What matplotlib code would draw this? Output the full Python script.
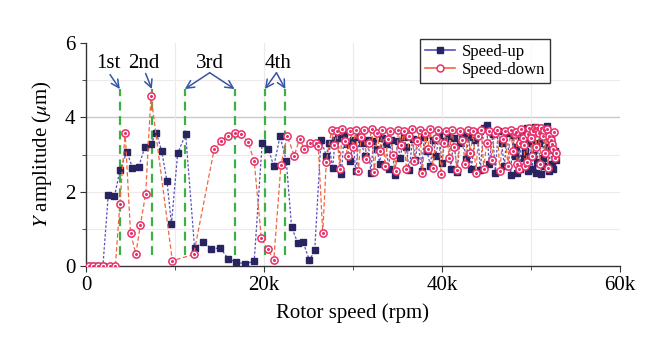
import matplotlib
matplotlib.use("Agg")
import matplotlib.pyplot as plt
from matplotlib.lines import Line2D
from matplotlib.ticker import MultipleLocator, FuncFormatter

# ─────────────────────────────────────────────
#  Data (rotor speed in k rpm, amplitude in µm)
# ─────────────────────────────────────────────
up_speed = [0.3, 0.9, 1.4, 1.9, 2.5, 3.2, 3.8, 4.6, 5.2, 5.9, 6.6, 7.3, 7.9, 8.5, 9.1, 9.6,
            10.3, 11.2, 12.2, 13.1, 14.1, 15.1, 16.0, 16.9, 17.9, 18.9, 19.8, 20.5, 21.1,
            21.8, 22.5, 23.1, 23.8, 24.4, 25.1, 25.7, 26.4,
            27.0, 27.3, 27.7, 28.0, 28.3, 28.7, 29.0, 29.3, 29.7, 30.0, 30.3, 30.7, 31.0,
            31.3, 31.7, 32.0, 32.3, 32.7, 33.0, 33.3, 33.7, 34.0, 34.3, 34.7, 35.0, 35.3,
            35.7, 36.0, 36.3, 36.7, 37.0, 37.3, 37.7, 38.0, 38.3, 38.7, 39.0, 39.3, 39.7,
            40.0, 40.3, 40.7, 41.0, 41.3, 41.7, 42.0, 42.3, 42.7, 43.0, 43.3, 43.7, 44.0,
            44.3, 44.7, 45.0, 45.3, 45.7, 46.0, 46.3, 46.7, 47.0, 47.3, 47.7,
            48.0, 48.15, 48.3, 48.45, 48.6, 48.75, 48.9, 49.05, 49.2, 49.35, 49.5, 49.65,
            49.8, 49.95, 50.1, 50.25, 50.4, 50.55, 50.7, 50.85, 51.0, 51.15, 51.3, 51.45,
            51.6, 51.75, 51.9, 52.05, 52.2, 52.35, 52.5, 52.65, 52.8]
up_amp = [0.0, 0.0, 0.0, 0.0, 1.91, 1.87, 2.57, 3.07, 2.65, 2.66, 3.19, 3.28, 3.58, 3.10,
          2.28, 1.13, 3.03, 3.55, 0.48, 0.64, 0.47, 0.48, 0.19, 0.10, 0.06, 0.13, 3.32,
          3.15, 2.68, 3.49, 2.83, 1.04, 0.62, 0.64, 0.15, 0.42, 3.40,
          2.96, 3.30, 2.63, 3.38, 3.45, 2.48, 3.52, 3.28, 2.82, 3.40, 2.55, 3.47, 3.30,
          2.95, 3.40, 2.50, 3.35, 3.15, 2.75, 3.45, 3.28, 2.62, 3.40, 2.45, 3.35, 2.90,
          3.48, 3.20, 2.58, 3.42, 2.85, 3.38, 2.55, 3.46, 3.10, 2.70, 3.40, 2.95, 3.52,
          2.78, 3.35, 3.50, 2.60, 3.44, 2.52, 3.30, 3.55, 2.88, 3.48, 2.62, 3.40, 3.60,
          2.58, 3.70, 3.80, 2.75, 3.55, 2.50, 3.62, 3.30, 2.68, 3.58, 2.45,
          3.52, 2.95, 3.20, 2.50, 3.60, 2.60, 3.40, 3.65, 2.90, 3.10, 3.72, 2.55,
          3.30, 3.40, 2.62, 3.00, 3.75, 2.50, 2.80, 3.30, 3.70, 2.48, 2.90, 3.55,
          2.70, 3.78, 3.20, 2.55, 3.45, 2.75, 2.60, 3.10, 2.85]

down_speed = [0.3, 0.8, 1.4, 1.95, 2.7, 3.3, 3.8, 4.4, 5.0, 5.6, 6.1, 6.7, 7.3, 9.7, 12.1,
              14.4, 15.2, 15.9, 16.7, 17.4, 18.2, 18.9, 19.7, 20.4, 21.1, 21.9, 22.6, 23.4,
              24.0, 24.5, 25.2, 25.8, 26.1, 26.6, 27.0, 27.6,
              27.9, 28.2, 28.5, 28.8, 29.1, 29.4, 29.7, 30.0, 30.3, 30.6, 30.9, 31.2, 31.5,
              31.8, 32.1, 32.4, 32.7, 33.0, 33.3, 33.6, 33.9, 34.2, 34.5, 34.8, 35.1, 35.4,
              35.7, 36.0, 36.3, 36.6, 36.9, 37.2, 37.5, 37.8, 38.1, 38.4, 38.7, 39.0, 39.3,
              39.6, 39.9, 40.2, 40.5, 40.8, 41.1, 41.4, 41.7, 42.0, 42.3, 42.6, 42.9, 43.2,
              43.5, 43.8, 44.1, 44.4, 44.7, 45.0, 45.3, 45.6, 45.9, 46.2, 46.5, 46.8, 47.1,
              47.4, 47.7,
              48.0, 48.15, 48.3, 48.45, 48.6, 48.75, 48.9, 49.05, 49.2, 49.35, 49.5, 49.65,
              49.8, 49.95, 50.1, 50.25, 50.4, 50.55, 50.7, 50.85, 51.0, 51.15, 51.3, 51.45,
              51.6, 51.75, 51.9, 52.05, 52.2, 52.35, 52.5, 52.6, 52.7, 52.8]
down_amp = [0.0, 0.0, 0.0, 0.0, 0.0, 0.0, 1.66, 3.58, 0.90, 0.32, 1.10, 1.93, 4.58, 0.14,
            0.31, 3.14, 3.36, 3.50, 3.59, 3.56, 3.34, 2.82, 0.74, 0.46, 0.16, 2.72, 3.50,
            2.97, 3.42, 3.16, 3.32, 3.30, 3.22, 0.88, 2.81, 3.66,
            3.25, 3.62, 2.60, 3.68, 3.35, 2.95, 3.62, 3.20, 3.66, 2.55, 3.48, 3.65, 2.88,
            3.30, 3.68, 2.52, 3.58, 3.10, 3.66, 2.70, 3.42, 3.64, 3.00, 2.55, 3.66, 3.25,
            3.62, 2.60, 3.50, 3.68, 2.82, 3.35, 3.66, 2.50, 3.58, 3.15, 3.68, 2.65, 3.45,
            3.66, 2.48, 3.30, 3.62, 2.90, 3.66, 3.20, 2.58, 3.64, 3.40, 2.75, 3.66, 3.05,
            3.62, 2.50, 3.50, 3.66, 2.62, 3.30, 3.64, 2.85, 3.58, 3.66, 2.55, 3.42, 3.62,
            2.70, 3.66,
            3.10, 3.55, 3.60, 2.75, 2.60, 3.30, 3.68, 3.45, 3.25, 2.70, 2.80, 3.55,
            3.70, 3.45, 2.95, 3.62, 3.72, 3.20, 3.70, 3.58, 2.75, 3.72, 3.50, 3.65,
            3.05, 3.68, 2.65, 3.50, 3.40, 3.28, 3.15, 3.60, 2.90, 3.05]

# critical speed markers (green dashed lines) and their labels
crit_speed = [3.8, 7.4, 11.1, 16.7, 20.1, 22.4]
crit_labels = ["1st", "2nd", "3rd", "4th"]
label_pos = [2.5, 6.5, 13.9, 21.6]
label_targets = [[3.8], [7.4], [11.1, 16.7], [20.1, 22.4]]
arrow_start = [(2.7, 5.15), (6.7, 5.18), (13.9, 5.2), (21.4, 5.2)]

# ─────────────────────────────────────────────
#  Style
# ─────────────────────────────────────────────
plt.rcParams["font.family"] = ["Liberation Serif", "DejaVu Serif"]
plt.rcParams["mathtext.fontset"] = "stix"

UP_MARK = "#27245f"
UP_LINE = "#5a4fb8"
DN_MARK = "#e8306a"
DN_LINE = "#f2663e"
GREEN = "#3cb043"
ARROW = "#3556a6"
FS = 15

fig = plt.figure(figsize=(6.6, 3.6), dpi=100)
ax = fig.add_axes([86 / 660, 1 - 266 / 360, 534 / 660, 223 / 360])

# gridlines
for y in [1, 2, 3, 5]:
    ax.axhline(y, color="#efeaea", lw=0.8, zorder=0)
ax.axhline(4, color="#cfc6c6", lw=1.0, zorder=0)
for x in [10, 20, 30, 40, 50]:
    ax.axvline(x, color="#efeaea", lw=0.8, zorder=0)

# green dashed lines at critical speeds
for cs in crit_speed:
    ax.plot([cs, cs], [0.3, 4.75], color=GREEN, lw=1.6, ls=(0, (4, 2.5)), zorder=1.5)

# speed-up
ax.plot(up_speed, up_amp, color=UP_LINE, lw=0.9, ls=(0, (2, 1.5)), zorder=2)
ax.plot(up_speed, up_amp, ls="none", marker="s", ms=4.8, mfc=UP_MARK, mec=UP_MARK, zorder=3)

# speed-down
ax.plot(down_speed, down_amp, color=DN_LINE, lw=0.9, ls=(0, (3.5, 2)), zorder=4)
ax.plot(down_speed, down_amp, ls="none", marker="o", ms=5.2, mfc="white", mec=DN_MARK,
        mew=1.1, zorder=5)
ax.plot(down_speed, down_amp, ls="none", marker="o", ms=1.2, mfc=DN_MARK, mec=DN_MARK,
        zorder=6)

# labels with arrows
for lab, lx, targets, start in zip(crit_labels, label_pos, label_targets, arrow_start):
    ax.text(lx, 5.45, lab, ha="center", va="center", fontsize=FS, color="black")
    for t in targets:
        ax.annotate("", xy=(t, 4.76), xytext=start,
                    arrowprops=dict(arrowstyle="->", color=ARROW, lw=1.1,
                                    mutation_scale=14, shrinkA=0, shrinkB=0))

# axes
ax.set_xlim(0, 60)
ax.set_ylim(0, 6)
ax.xaxis.set_major_locator(MultipleLocator(20))
ax.xaxis.set_minor_locator(MultipleLocator(10))
ax.yaxis.set_major_locator(MultipleLocator(2))
ax.yaxis.set_minor_locator(MultipleLocator(1))
ax.xaxis.set_major_formatter(FuncFormatter(lambda v, p: "0" if v == 0 else f"{int(v)}k"))
ax.tick_params(which="both", direction="out", colors="#333333", labelcolor="black",
               labelsize=FS)
ax.tick_params(which="major", length=4)
ax.tick_params(which="minor", length=3)
for side in ["top", "right"]:
    ax.spines[side].set_visible(False)
for side in ["left", "bottom"]:
    ax.spines[side].set_color("#333333")
    ax.spines[side].set_linewidth(1.0)

ax.set_xlabel("Rotor speed (rpm)", fontsize=FS, labelpad=6)
ax.set_ylabel(r"$Y$ amplitude ($\mu$m)", fontsize=FS, labelpad=8)

# legend
handles = [
    Line2D([], [], color=UP_LINE, lw=1.2, marker="s", ms=5, mfc=UP_MARK, mec=UP_MARK),
    Line2D([], [], color=DN_LINE, lw=1.2, marker="o", ms=5, mfc="white", mec=DN_MARK, mew=1.1),
]
leg = ax.legend(handles, ["Speed-up", "Speed-down"], loc="upper left",
                bbox_to_anchor=(420 / 660, 1 - 39 / 360), bbox_transform=fig.transFigure,
                fontsize=12, frameon=True, fancybox=False, handlelength=1.8,
                borderpad=0.3, labelspacing=0.12, handletextpad=0.4, borderaxespad=0)
leg.get_frame().set_edgecolor("black")
leg.get_frame().set_linewidth(1.0)

fig.savefig("out.png", dpi=100)
